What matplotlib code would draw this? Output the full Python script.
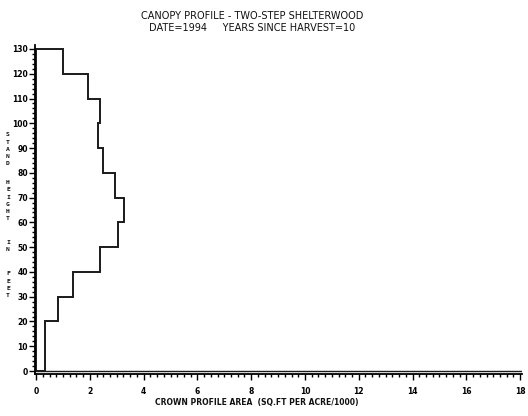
#!/usr/bin/env python3
"""
Canopy profile plot: crown profile area by stand height class.
"""

import numpy as np
import matplotlib
matplotlib.use('Agg')
import matplotlib.pyplot as plt
from matplotlib.ticker import MultipleLocator

# Height classes (ft) and crown profile area (sq.ft per acre / 1000)
height_lower = [0, 10, 20, 30, 40, 50, 60, 70, 80, 90, 100, 110, 120]
crown_area = [0.33, 0.33, 0.82, 1.39, 2.38, 3.06, 3.28, 2.94, 2.48, 2.32, 2.36, 1.94, 1.01]
top_height = 130

title = 'CANOPY PROFILE - TWO-STEP SHELTERWOOD\nDATE=1994     YEARS SINCE HARVEST=10'
xlabel = 'CROWN PROFILE AREA  (SQ.FT PER ACRE/1000)'
ylabel_words = ['STAND', 'HEIGHT', 'IN', 'FEET']

fig = plt.figure(figsize=(5.28, 4.16), dpi=100)
ax = fig.add_axes([35 / 528, 1 - 374 / 416, 487 / 528, 329 / 416])

# Closed step outline of the profile
xs = [0]
ys = [0]
for h, w in zip(height_lower, crown_area):
    xs += [w, w]
    ys += [h, h + 10]
xs += [0, 0]
ys += [top_height, 0]
ax.plot(xs, ys, color='#1a1a1a', lw=1.4, solid_joinstyle='miter')
ax.axhline(0, color='#1a1a1a', lw=1.0)

ax.set_xlim(-0.04, 18.07)
ax.set_ylim(-1.2, 131.6)
ax.spines['top'].set_visible(False)
ax.spines['right'].set_visible(False)
for s in ('left', 'bottom'):
    ax.spines[s].set_linewidth(1.3)

ax.xaxis.set_major_locator(MultipleLocator(2))
ax.xaxis.set_minor_locator(MultipleLocator(0.25))
ax.yaxis.set_major_locator(MultipleLocator(10))
ax.yaxis.set_minor_locator(MultipleLocator(2))
ax.tick_params(which='major', direction='out', length=4, width=1, labelsize=5.5, pad=1)
ax.tick_params(which='minor', direction='out', length=2, width=1)
ax.tick_params(axis='x', which='major', pad=5)
for lbl in ax.get_xticklabels() + ax.get_yticklabels():
    lbl.set_fontweight('bold')

fig.text(252 / 528, 1 - 22 / 416, title, ha='center', va='center',
         fontsize=7, linespacing=1.25, color='#111')
fig.text(257 / 528, 1 - 402 / 416, xlabel, ha='center', va='center',
         fontsize=5.5, fontweight='bold', color='#111')

# Vertical stacked y label, one letter per line
y = 135
for i, word in enumerate(ylabel_words):
    if i > 0:
        y += 24 if i > 1 else 19
    for j, ch in enumerate(word):
        if j > 0:
            y += 7.2
        fig.text(8 / 528, 1 - y / 416, ch, ha='center', va='center',
                 fontsize=4.6, fontweight='bold', family='DejaVu Sans Mono', color='#111')

plt.savefig('out.png', dpi=100)
